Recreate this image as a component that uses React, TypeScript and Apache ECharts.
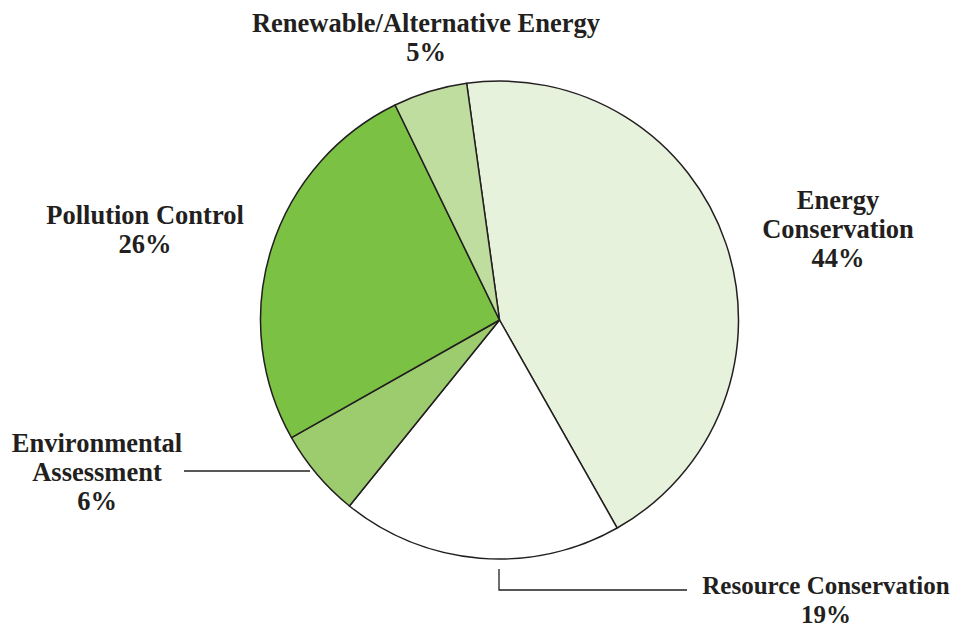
import React, { useEffect, useRef } from "react";
import * as echarts from "echarts";

const categories = [
  "Energy Conservation",
  "Resource Conservation",
  "Environmental Assessment",
  "Pollution Control",
  "Renewable/Alternative Energy",
];
const labelTexts = [
  "Energy\nConservation",
  "Resource Conservation",
  "Environmental\nAssessment",
  "Pollution Control",
  "Renewable/Alternative Energy",
];
const values = [44, 19, 6, 26, 5];
const colors = ["#e6f2dc", "#ffffff", "#9ccc6e", "#7bc143", "#bedd9e"];

// [center x, first line center y, line spacing, font size]
const labelPos: [number, number, number, number][] = [
  [838, 199.5, 29, 26.5],
  [826, 585, 29, 25],
  [97, 442.5, 29, 26.5],
  [145, 214.5, 29, 26.5],
  [426, 23, 29, 26.5],
];

export default function App() {
  const ref = useRef<HTMLDivElement>(null);
  useEffect(() => {
    if (!ref.current) return;
    const chart = echarts.init(ref.current, undefined, { renderer: "svg" });
    const total = values.reduce((a, b) => a + b, 0);
    const font = "Liberation Serif, Times New Roman, serif";
    const texts: any[] = [];
    categories.forEach((c, i) => {
      const lines = `${labelTexts[i]}\n${Math.round((values[i] / total) * 100)}%`.split("\n");
      const [x, y0, step, fs] = labelPos[i];
      lines.forEach((line, j) => {
        texts.push({
          type: "text",
          x,
          y: y0 + j * step,
          style: {
            text: line,
            fontFamily: font,
            fontWeight: "bold",
            fontSize: fs,
            lineHeight: fs,
            fill: "#231f20",
            align: "center",
            verticalAlign: "middle",
          },
        });
      });
    });
    chart.setOption({
      animation: false,
      backgroundColor: "#ffffff",
      series: [
        {
          type: "pie",
          center: [499.5, 320],
          radius: 239,
          startAngle: 97.9,
          clockwise: true,
          label: { show: false },
          labelLine: { show: false },
          emphasis: { disabled: true },
          itemStyle: { borderColor: "#231f20", borderWidth: 1.5 },
          data: categories.map((c, i) => ({
            name: c,
            value: values[i],
            itemStyle: { color: colors[i] },
          })),
        },
      ],
      graphic: [
        ...texts,
        {
          type: "polyline",
          shape: { points: [[184, 471], [310, 471]] },
          style: { stroke: "#231f20", lineWidth: 1.3, fill: null },
        },
        {
          type: "polyline",
          shape: { points: [[499, 569], [499, 590], [687, 590]] },
          style: { stroke: "#231f20", lineWidth: 1.3, fill: null },
        },
      ],
    });
    return () => chart.dispose();
  }, []);
  return (
    <div
      ref={ref}
      style={{ position: "fixed", left: 0, top: 0, width: 961, height: 628 }}
    />
  );
}
